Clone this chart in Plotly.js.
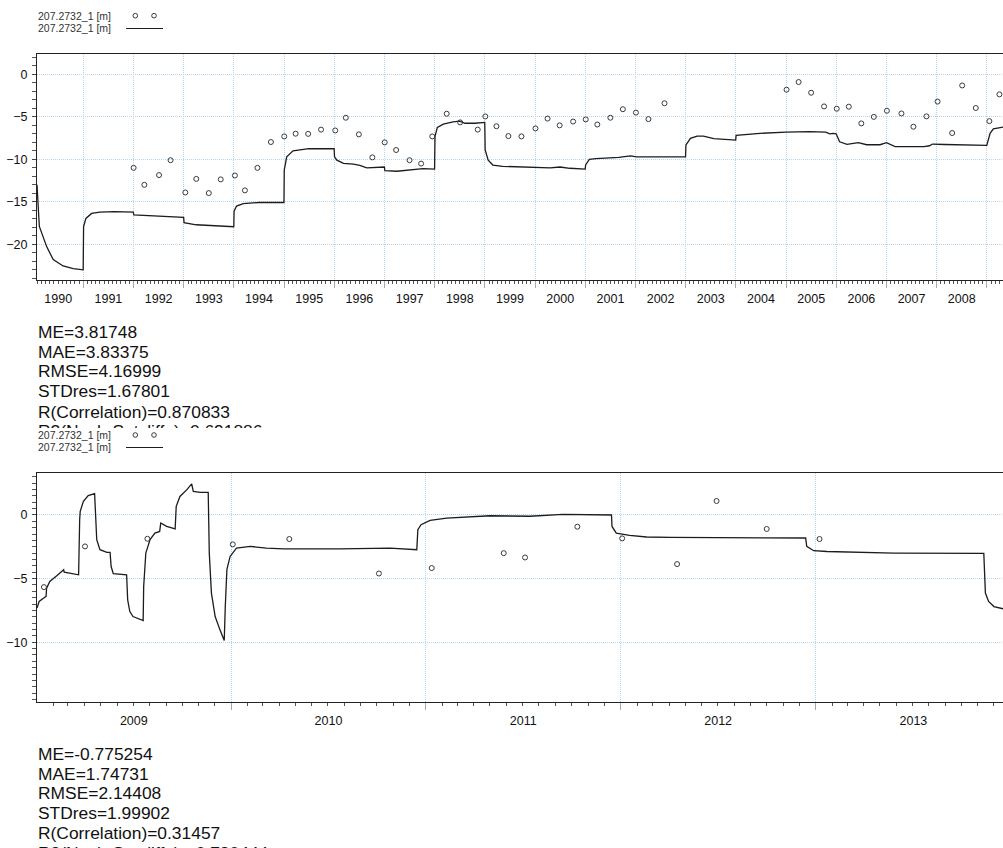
<!DOCTYPE html>
<html><head><meta charset="utf-8">
<script src="https://cdn.plot.ly/plotly-3.0.1.min.js"></script>
<style>
html,body{margin:0;padding:0;background:#fff;overflow:hidden;width:1003px;height:848px}
#top{position:absolute;left:0;top:0;width:1003px;height:428px;overflow:hidden}
#bot{position:absolute;left:0;top:428px;width:1003px;height:420px;overflow:hidden}
</style>
</head><body><div id="top"></div><div id="bot"></div>
<script>
const seriesName = "207.2732_1 [m]";

// ---- Panel 1 (1990-2009) ----
const obs1Dates = ["1992-01-02","1992-03-20","1992-07-05","1992-09-27","1993-01-12","1993-04-02","1993-07-02","1993-09-27",
  "1994-01-08","1994-03-22","1994-06-21","1994-09-27","1995-01-02","1995-03-26","1995-06-25","1995-09-27",
  "1996-01-08","1996-03-25","1996-06-28","1996-10-04","1997-01-02","1997-03-26","1997-07-02","1997-09-24","1997-12-14",
  "1998-03-29","1998-07-05","1998-11-10","1999-01-04","1999-03-26","1999-06-21","1999-09-24",
  "2000-01-04","2000-04-01","2000-06-28","2000-10-04","2001-01-04","2001-03-29","2001-07-02","2001-10-01",
  "2002-01-04","2002-04-05","2002-07-31",
  "2005-01-04","2005-04-02","2005-07-02","2005-10-04","2006-01-04","2006-04-02","2006-07-02","2006-10-01",
  "2007-01-04","2007-04-20","2007-07-16","2007-10-19","2008-01-08","2008-04-23","2008-07-05","2008-10-12",
  "2009-01-19","2009-04-02"];
const obs1Values = [-11.0,-13.0,-11.85,-10.1,-13.9,-12.3,-13.97,-12.36,
  -11.9,-13.65,-11.0,-7.96,-7.3,-6.98,-7.0,-6.5,
  -6.6,-5.1,-7.06,-9.77,-8.0,-8.9,-10.1,-10.5,-7.3,
  -4.63,-5.65,-6.5,-4.95,-6.1,-7.26,-7.3,
  -6.36,-5.2,-6.0,-5.55,-5.3,-5.9,-5.1,-4.1,
  -4.5,-5.26,-3.4,
  -1.8,-0.9,-2.16,-3.77,-4.04,-3.8,-5.77,-5.0,
  -4.28,-4.6,-6.16,-4.94,-3.2,-6.9,-1.3,-3.96,
  -5.5,-2.35];
const sim1Dates = ["1990-01-29","1990-02-15","1990-04-10","1990-05-27","1990-08-07","1990-10-19","1990-12-31",
  "1991-01-03","1991-01-20","1991-03-02","1991-05-01","1991-08-15","1991-12-31",
  "1992-01-03","1992-12-31","1993-01-03","1993-04-01","1993-12-31",
  "1994-01-02","1994-01-20","1994-03-10","1994-07-01","1994-12-31",
  "1995-01-02","1995-01-20","1995-03-07","1995-07-01","1995-12-31",
  "1996-01-03","1996-01-20","1996-03-08","1996-05-20","1996-07-05","1996-08-25","1996-12-31",
  "1997-01-03","1997-04-01","1997-08-01","1997-10-08","1997-12-31",
  "1998-01-03","1998-01-20","1998-03-05","1998-05-15","1998-07-01","1998-08-10","1998-10-20","1998-12-31",
  "1999-01-03","1999-01-25","1999-02-28","1999-05-10","1999-11-25",
  "2000-04-20","2000-07-01","2000-09-10","2000-12-31",
  "2001-01-03","2001-01-30","2001-03-18","2001-09-01","2001-11-25","2002-01-10","2002-12-31",
  "2003-01-03","2003-02-05","2003-03-25","2003-05-10","2003-07-25","2003-10-25","2003-12-31",
  "2004-01-03","2004-06-25","2005-01-01","2005-06-20","2005-10-15","2005-11-15","2005-12-10","2005-12-31",
  "2006-01-25","2006-03-20","2006-06-10","2006-08-10","2006-11-15",
  "2007-01-01","2007-03-05","2007-07-01","2007-10-01","2007-11-10","2007-12-01",
  "2008-03-01","2008-07-01","2008-12-31","2009-01-24","2009-02-17","2009-04-30"];
const sim1Values = [-13.0,-17.9,-20.3,-21.8,-22.55,-22.87,-23.0,
  -17.9,-16.95,-16.36,-16.2,-16.15,-16.2,
  -16.55,-16.83,-17.45,-17.7,-17.93,
  -16.1,-15.5,-15.2,-15.08,-15.08,
  -11.26,-9.7,-8.99,-8.75,-8.75,
  -9.7,-10.1,-10.47,-10.55,-10.7,-11.0,-10.9,
  -11.34,-11.4,-11.25,-11.1,-11.15,
  -7.3,-6.24,-5.85,-5.6,-5.5,-5.75,-5.75,-5.65,
  -8.9,-10.1,-10.67,-10.82,-10.9,
  -11.0,-10.9,-11.05,-11.15,
  -10.65,-10.0,-9.92,-9.77,-9.6,-9.7,-9.7,
  -8.3,-7.53,-7.26,-7.26,-7.57,-7.65,-7.73,
  -7.18,-6.94,-6.79,-6.73,-6.8,-7.0,-6.94,-7.0,
  -7.93,-8.24,-8.04,-8.28,-8.28,
  -8.04,-8.5,-8.53,-8.5,-8.4,-8.2,
  -8.25,-8.32,-8.36,-6.94,-6.4,-6.2];
const stats1 = ["ME=3.81748","MAE=3.83375","RMSE=4.16999","STDres=1.67801","R(Correlation)=0.870833","R2(Nash-Sutcliffe)=0.691886"];

// ---- Panel 2 (2009-2013) ----
const obs2Dates = ["2009-01-15","2009-04-02","2009-07-28","2010-01-04","2010-04-20","2010-10-05","2011-01-12",
  "2011-05-27","2011-07-06","2011-10-12","2012-01-04","2012-04-16","2012-06-29","2012-10-01","2013-01-08"];
const obs2Values = [-5.67,-2.47,-1.87,-2.31,-1.89,-4.6,-4.17,-3.0,-3.34,-0.92,-1.84,-3.86,1.1,-1.1,-1.89];
const sim2Dates = ["2009-01-02","2009-01-06","2009-01-14","2009-01-19","2009-01-20","2009-01-26","2009-02-08","2009-02-17","2009-02-21",
  "2009-02-22","2009-03-21","2009-03-23","2009-03-24","2009-03-30","2009-04-08","2009-04-20",
  "2009-04-22","2009-04-24","2009-04-30","2009-05-13","2009-05-19","2009-05-21","2009-05-25","2009-06-19",
  "2009-06-21","2009-06-25","2009-07-01","2009-07-14","2009-07-20","2009-07-21","2009-07-25","2009-08-02","2009-08-11","2009-08-20",
  "2009-08-22","2009-09-02","2009-09-18","2009-09-20","2009-09-27","2009-10-10","2009-10-19",
  "2009-10-22","2009-11-04","2009-11-19","2009-11-21","2009-11-25","2009-12-02","2009-12-11","2009-12-19",
  "2009-12-21","2009-12-24","2009-12-30","2010-01-11","2010-02-06","2010-03-08","2010-04-09","2010-07-23",
  "2010-10-26","2010-12-15","2010-12-17","2010-12-23","2011-01-09","2011-02-09","2011-05-01","2011-07-15","2011-09-15","2011-12-15",
  "2011-12-16","2011-12-24","2012-01-18","2012-02-19","2012-04-03","2012-07-18","2012-12-13",
  "2012-12-15","2012-12-28","2013-01-22","2013-05-27","2013-11-12","2013-11-13","2013-11-15","2013-11-21","2013-12-01","2013-12-19","2013-12-31"];
const sim2Values = [-7.32,-6.8,-6.54,-6.4,-5.75,-5.23,-4.78,-4.44,-4.31,
  -4.5,-4.7,-0.37,0.28,1.07,1.52,1.68,
  -0.37,-1.94,-2.73,-2.94,-2.94,-4.05,-4.62,-4.7,
  -6.67,-7.59,-7.98,-8.17,-8.3,-5.62,-3.0,-1.94,-1.42,-1.29,
  -0.63,-0.89,-1.1,0.68,1.46,1.99,2.44,
  1.86,1.78,1.78,-3.0,-6.14,-7.98,-9.03,-9.87,
  -7.2,-4.3,-3.26,-2.6,-2.47,-2.6,-2.67,-2.67,
  -2.6,-2.73,-1.16,-0.76,-0.42,-0.24,-0.06,-0.1,0.05,0.0,
  -0.9,-1.42,-1.6,-1.73,-1.76,-1.8,-1.81,
  -2.47,-2.81,-2.87,-3.0,-3.02,-4.3,-6.14,-6.8,-7.2,-7.38,-7.45];
const stats2 = ["ME=-0.775254","MAE=1.74731","RMSE=2.14408","STDres=1.99902","R(Correlation)=0.31457","R2(Nash-Sutcliffe)=-0.780444"];

const FONT = "Liberation Sans, Arial, Helvetica, sans-serif";
const GRID = "#b4d6f0";
const W = 1003;

function panel(id, cfg) {
  const L = 37, R = 0;
  const plotW = W - L - R;
  const plotTop = cfg.t, plotBot = cfg.height - cfg.b, plotH = plotBot - plotTop;
  const px = p => (p - L) / plotW;
  const py = p => (plotBot - p) / plotH;

  const traces = [
    {x: cfg.simDates, y: cfg.simValues, type: "scatter", mode: "lines",
     line: {color: "#1c1c1c", width: 1.3}, hoverinfo: "skip", showlegend: false, cliponaxis: true},
    {x: cfg.obsDates, y: cfg.obsValues, type: "scatter", mode: "markers",
     marker: {symbol: "circle-open", size: 5, color: "#3a3a3a", line: {width: 1, color: "#3a3a3a"}},
     hoverinfo: "skip", showlegend: false, cliponaxis: true}
  ];

  const annotations = [];
  [cfg.leg[0], cfg.leg[1]].forEach(yy => annotations.push({
    xref: "paper", yref: "paper", x: px(38), y: py(yy), xanchor: "left", yanchor: "middle",
    xshift: -2, text: seriesName, showarrow: false, font: {family: FONT, size: 10.5, color: "#333"}
  }));
  cfg.stats.forEach((s, i) => annotations.push({
    xref: "paper", yref: "paper", x: px(38), y: py(cfg.statsY[i]), xanchor: "left", yanchor: "middle",
    xshift: -2, text: s, showarrow: false, font: {family: FONT, size: 17.4, color: "#111"}
  }));

  const shapes = [];
  [135.3, 154].forEach(cx => shapes.push({
    type: "circle", xref: "paper", yref: "paper", xsizemode: "pixel", ysizemode: "pixel",
    xanchor: px(cx), yanchor: py(cfg.leg[0]), x0: -2.3, x1: 2.3, y0: -2.3, y1: 2.3,
    line: {color: "#3a3a3a", width: 1}
  }));
  shapes.push({type: "line", xref: "paper", yref: "paper", x0: px(126), x1: px(163),
    y0: py(cfg.leg[1] + 0.5), y1: py(cfg.leg[1] + 0.5), line: {color: "#1c1c1c", width: 1}});

  const layout = {
    width: W, height: cfg.height,
    margin: {l: L, r: R, t: cfg.t, b: cfg.b, pad: 0},
    paper_bgcolor: "#fff", plot_bgcolor: "#fff",
    font: {family: FONT, size: 12.5, color: "#111"},
    showlegend: false,
    xaxis: {
      type: "date", range: cfg.xRange, tick0: cfg.xTick0, dtick: "M12", tickformat: "%Y",
      ticklabelmode: "period", ticks: "outside", ticklen: 7, tickcolor: "#aaaaaa", tickwidth: 1,
      showgrid: true, gridcolor: GRID, griddash: "1px,1px", gridwidth: 1,
      showline: true, linecolor: "#222", linewidth: 1, mirror: true, zeroline: false,
      tickfont: {family: FONT, size: 12.5, color: "#111"},
      minor: {dtick: "M1", tick0: cfg.xTick0, ticks: "outside", ticklen: 3, tickcolor: "#555", tickwidth: 1, showgrid: false}
    },
    yaxis: {
      range: cfg.yRange, tick0: 0, dtick: 5, ticks: "outside", ticklen: 4, tickcolor: "#444",
      showgrid: true, gridcolor: GRID, griddash: "1px,1px", gridwidth: 1, zeroline: false,
      showline: true, linecolor: "#222", linewidth: 1, mirror: false,
      ticklabelstandoff: 2,
      tickfont: {family: FONT, size: 12.5, color: "#111"},
      minor: {dtick: cfg.yMinor, tick0: 0, ticks: "outside", ticklen: 4, tickcolor: "#555", tickwidth: 1, showgrid: false}
    },
    annotations: annotations,
    shapes: shapes
  };
  Plotly.newPlot(id, traces, layout, {staticPlot: true, displayModeBar: false});
}

panel("top", {
  height: 428, t: 54, b: 148,
  xRange: ["1990-01-29", "2009-04-28"], xTick0: "1990-01-01",
  yRange: [-24.2, 2.4], yMinor: 1,
  simDates: sim1Dates, simValues: sim1Values, obsDates: obs1Dates, obsValues: obs1Values,
  leg: [15.7, 28], stats: stats1, statsY: [332, 351.7, 371.2, 391, 411.5, 431]
});
panel("bot", {
  height: 420, t: 45, b: 146,
  xRange: ["2009-01-02", "2013-12-18"], xTick0: "2009-01-01",
  yRange: [-14.7, 3.3], yMinor: 0.5,
  simDates: sim2Dates, simValues: sim2Values, obsDates: obs2Dates, obsValues: obs2Values,
  leg: [7, 19], stats: stats2, statsY: [326.3, 345.7, 365, 385.3, 405.3, 424.5]
});
</script>
</body></html>
